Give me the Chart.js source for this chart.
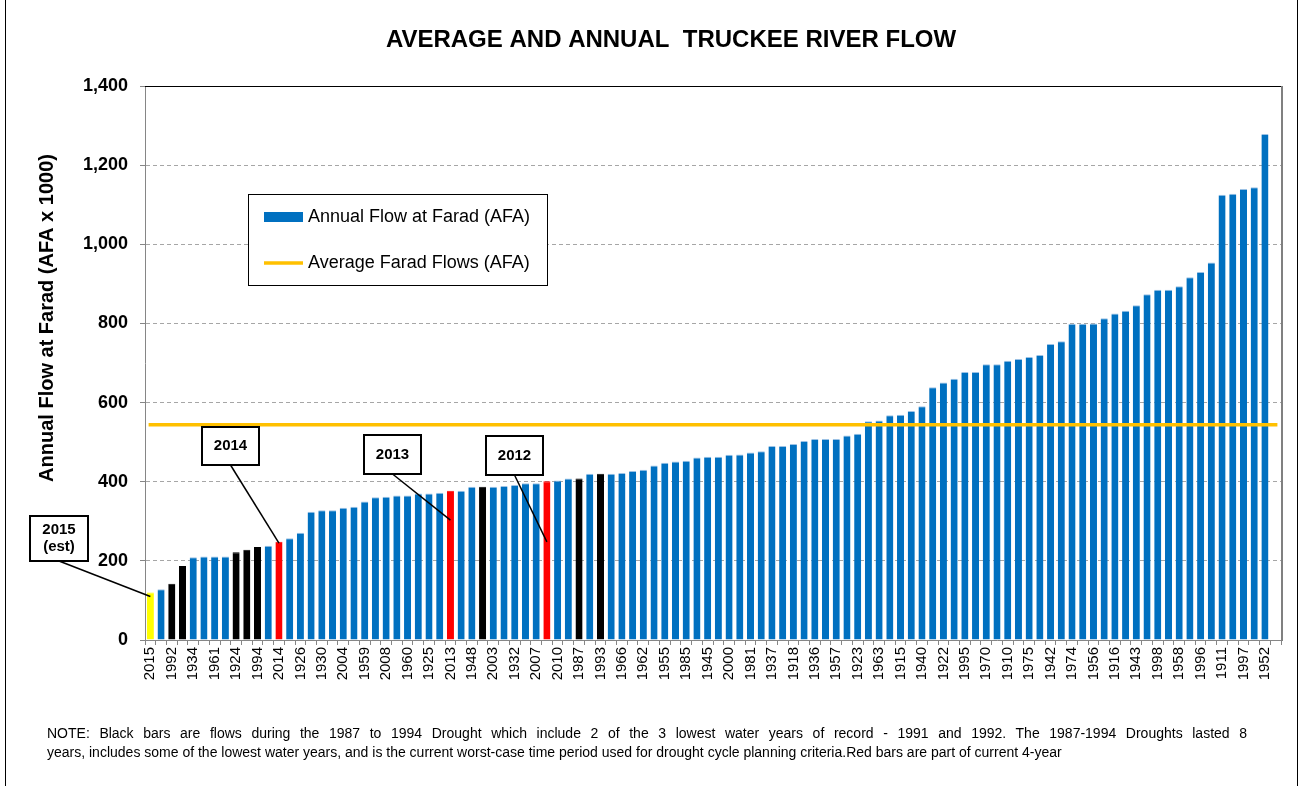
<!DOCTYPE html>
<html>
<head>
<meta charset="utf-8">
<title>Average and Annual Truckee River Flow</title>
<script src="https://cdn.jsdelivr.net/npm/chart.js@4.4.1/dist/chart.umd.min.js"></script>
<style>
  html, body { margin: 0; padding: 0; background: #fff; }
  #wrap { position: relative; width: 1301px; height: 786px; overflow: hidden; }
  #frame { position: absolute; left: 5px; top: 0; width: 1293px; height: 786px; box-sizing: border-box;
           border-left: 1px solid #000; border-right: 1px solid #000; pointer-events: none; }
  canvas { position: absolute; left: 0; top: 0; }
  #note { position: absolute; left: 47px; top: 724px; width: 1200px; font: 14px Arial, "Liberation Sans", sans-serif;
          line-height: 19px; color: #000; }
  #note .l1 { text-align: justify; text-align-last: justify; white-space: normal; }
  #note .l2 { white-space: pre; }
</style>
</head>
<body>
<div id="wrap">
  <canvas id="flowChart" width="1301" height="786"></canvas>
  <div id="frame"></div>
  <div id="note">
    <div class="l1">NOTE:  Black bars are flows during the 1987 to 1994 Drought which include 2 of the 3 lowest  water years of record - 1991 and 1992. The 1987-1994 Droughts lasted  8</div>
    <div class="l2">years, includes some of the lowest water years, and is the current worst-case time period used for drought cycle planning criteria.Red bars are part of current 4-year</div>
  </div>
</div>
<script>
// Tahun (diurutkan dari debit terkecil), hanya yang terbaca di gambar
const yearLabels = [
  "2015", "", "1992", "", "1934", "", "1961", "", "1924", "", "1994", "", "2014", "", "1926", "",
  "1930", "", "2004", "", "1959", "", "2008", "", "1960", "", "1925", "", "2013", "", "1948", "",
  "2003", "", "1932", "", "2007", "2012", "2010", "", "1987", "", "1993", "", "1966", "", "1962", "",
  "1955", "", "1985", "", "1945", "", "2000", "", "1981", "", "1937", "", "1918", "", "1936", "",
  "1957", "", "1923", "", "1963", "", "1915", "", "1940", "", "1922", "", "1995", "", "1970", "",
  "1910", "", "1975", "", "1942", "", "1974", "", "1956", "", "1916", "", "1943", "", "1998", "",
  "1958", "", "1996", "", "1911", "", "1997", "", "1952", "",
];

// Debit tahunan di Farad (AFA x 1000)
const annualFlow = [
  120, 128, 142, 187, 209, 211, 211, 211, 222, 228, 235, 238, 248, 257, 271, 324,
  328, 328, 334, 337, 350, 361, 362, 365, 365, 370, 370, 372, 377, 377, 387, 387,
  387, 389, 392, 396, 396, 401, 403, 408, 408, 420, 420, 420, 422, 427, 430, 441,
  448, 451, 453, 461, 463, 463, 468, 469, 474, 477, 490, 490, 495, 503, 508, 508,
  508, 517, 521, 553, 555, 568, 569, 579, 591, 639, 651, 660, 677, 677, 697, 697,
  706, 710, 715, 720, 748, 755, 799, 799, 800, 813, 825, 832, 846, 874, 885, 885,
  894, 917, 930, 954, 1125, 1128, 1140, 1144, 1279, null,
];

// Rata-rata debit Farad
const averageFlow = 544;
const averageLine = yearLabels.map(() => averageFlow);

// Indeks batang berwarna khusus
const droughtBars = [2, 3, 8, 9, 10, 31, 40, 42]; // kekeringan 1987-1994 (hitam)
const currentBars = [12, 28, 37]; // kekeringan sekarang (merah)
const estimateBars = [0]; // 2015 perkiraan (kuning)

// Keterangan (callout)
const calloutText = [["2015", "(est)"], ["2014"], ["2013"], ["2012"]];
const calloutBar = [0, 12, 28, 37];
const calloutValue = [110, 245, 303, 248];

const yTicks = [0, 200, 400, 600, 800, 1000, 1200, 1400];

const chartTitle = "AVERAGE AND ANNUAL  TRUCKEE RIVER FLOW";
const yTitle = "Annual Flow at Farad (AFA x 1000)";

const FONT = 'Arial, "Liberation Sans", sans-serif';

const barColors = annualFlow.map((v, i) => {
  if (estimateBars.includes(i)) return "#FFFF00";
  if (currentBars.includes(i)) return "#FF0000";
  if (droughtBars.includes(i)) return "#000000";
  return "#0070C0";
});
const barEdge = barColors.map((c) => (c === "#0070C0" ? "#9CC2E5" : c));

// posisi kotak callout [x, y, w, h]
const calloutBox = [
  [30, 516, 58, 45],
  [202, 427, 57, 38],
  [364, 435, 57, 39],
  [486, 436, 57, 39],
];

const extrasPlugin = {
  id: "extras",
  afterDraw(chart) {
    const { ctx, chartArea: a, scales } = chart;
    ctx.save();

    // judul
    ctx.fillStyle = "#000";
    ctx.font = "bold 24px " + FONT;
    ctx.textAlign = "center";
    ctx.textBaseline = "middle";
    ctx.fillText(chartTitle, 671, 40);

    // garis atas dan kanan area plot
    ctx.strokeStyle = "#000";
    ctx.lineWidth = 1;
    ctx.beginPath();
    ctx.moveTo(a.left, a.top + 0.5);
    ctx.lineTo(a.right, a.top + 0.5);
    ctx.stroke();
    ctx.strokeStyle = "#808080";
    ctx.lineWidth = 2;
    ctx.beginPath();
    ctx.moveTo(a.right + 1, a.top);
    ctx.lineTo(a.right + 1, a.bottom + 1);
    ctx.stroke();

    // judul sumbu Y
    ctx.save();
    ctx.fillStyle = "#000";
    ctx.font = "bold 20px " + FONT;
    ctx.textAlign = "center";
    ctx.textBaseline = "middle";
    ctx.translate(47, 318);
    ctx.rotate(-Math.PI / 2);
    ctx.fillText(yTitle, 0, 0);
    ctx.restore();

    // legenda
    ctx.fillStyle = "#fff";
    ctx.fillRect(248, 194, 299, 91);
    ctx.strokeStyle = "#000";
    ctx.lineWidth = 1;
    ctx.strokeRect(248.5, 194.5, 299, 91);
    ctx.fillStyle = "#0070C0";
    ctx.fillRect(264, 212, 39, 10);
    ctx.strokeStyle = "#FFC000";
    ctx.lineWidth = 3.5;
    ctx.beginPath();
    ctx.moveTo(264, 263);
    ctx.lineTo(303, 263);
    ctx.stroke();
    ctx.fillStyle = "#000";
    ctx.font = "18px " + FONT;
    ctx.textAlign = "left";
    ctx.textBaseline = "middle";
    ctx.fillText(chart.data.datasets[0].label, 308, 217);
    ctx.fillText(chart.data.datasets[1].label, 308, 263);

    // callout
    calloutText.forEach((lines, k) => {
      const [bx, by, bw, bh] = calloutBox[k];
      const px = scales.x.getPixelForValue(calloutBar[k]);
      const py = scales.y.getPixelForValue(calloutValue[k]);
      ctx.strokeStyle = "#000";
      ctx.lineWidth = 1.5;
      ctx.beginPath();
      ctx.moveTo(bx + bw / 2, by + bh);
      ctx.lineTo(px, py);
      ctx.stroke();
      ctx.fillStyle = "#fff";
      ctx.fillRect(bx, by, bw, bh);
      ctx.lineWidth = 2;
      ctx.strokeRect(bx, by, bw, bh);
      ctx.fillStyle = "#000";
      ctx.font = "bold 15px " + FONT;
      ctx.textAlign = "center";
      ctx.textBaseline = "middle";
      const lh = 17;
      const y0 = by + bh / 2 - ((lines.length - 1) * lh) / 2;
      lines.forEach((t, j) => ctx.fillText(t, bx + bw / 2, y0 + j * lh));
    });

    ctx.restore();
  },
};

const ctx = document.getElementById("flowChart").getContext("2d");
new Chart(ctx, {
  data: {
    labels: yearLabels,
    datasets: [
      {
        type: "bar",
        label: "Annual Flow at Farad (AFA)",
        data: annualFlow,
        backgroundColor: barColors,
        borderColor: barEdge,
        borderWidth: { top: 1, left: 0, right: 0, bottom: 0 },
        barPercentage: 0.66,
        categoryPercentage: 1.0,
        order: 2,
      },
      {
        type: "line",
        label: "Average Farad Flows (AFA)",
        data: averageLine,
        borderColor: "#FFC000",
        borderWidth: 3.5,
        borderCapStyle: "square",
        pointRadius: 0,
        fill: false,
        order: 1,
      },
    ],
  },
  options: {
    responsive: false,
    animation: false,
    devicePixelRatio: 1,
    layout: { padding: { left: 0, right: 20, top: 86, bottom: 0 } },
    plugins: {
      legend: { display: false },
      tooltip: { enabled: false },
      title: { display: false },
    },
    scales: {
      x: {
        offset: true,
        grid: {
          display: true,
          drawOnChartArea: false,
          drawTicks: true,
          tickLength: 5,
          offset: true,
          tickColor: "#868686",
        },
        border: { color: "#868686", width: 1 },
        ticks: {
          autoSkip: false,
          minRotation: 90,
          maxRotation: 90,
          padding: 2,
          color: "#000",
          font: { family: FONT, size: 15 },
          callback: (v, i) => (i % 2 === 0 ? yearLabels[i] : ""),
        },
        afterFit: (s) => { s.height = 146; },
      },
      y: {
        min: 0,
        max: 1400,
        afterBuildTicks: (s) => { s.ticks = yTicks.map((v) => ({ value: v })); },
        grid: {
          color: (c) => (c.tick && (c.tick.value === 0 || c.tick.value === 1400) ? "rgba(0,0,0,0)" : "#A6A6A6"),
          lineWidth: 1,
          tickLength: 5,
          tickColor: "#868686",
          tickBorderDash: [],
        },
        border: { color: "#868686", width: 1, dash: [4, 3] },
        ticks: {
          padding: 12,
          color: "#000",
          font: { family: FONT, size: 18, weight: "bold" },
          callback: (v) => v.toLocaleString("en-US"),
        },
        afterFit: (s) => { s.width = 145; },
      },
    },
  },
  plugins: [extrasPlugin],
});
</script>
</body>
</html>
